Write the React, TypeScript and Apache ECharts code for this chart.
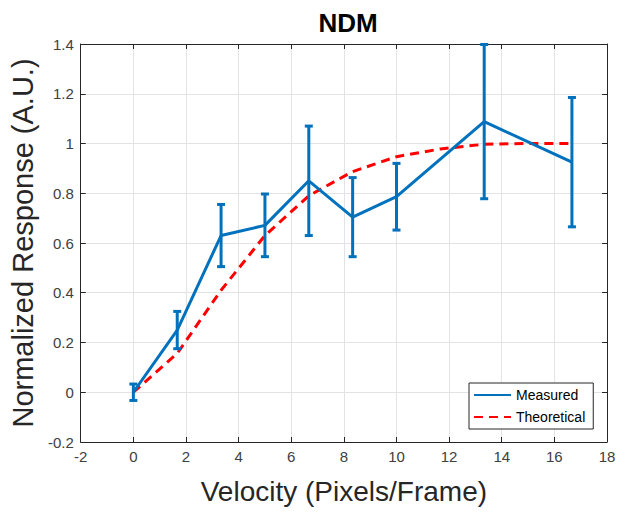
import React, { useEffect, useRef } from "react";
import * as echarts from "echarts";

const velocities = [0, 1.667, 3.333, 5, 6.667, 8.333, 10, 13.333, 16.667];
const measured = [0.0, 0.25, 0.63, 0.671, 0.85, 0.704, 0.786, 1.088, 0.925];
const measuredErr = [0.033, 0.075, 0.125, 0.126, 0.22, 0.159, 0.134, 0.31, 0.26];
const theoVelocities = [0, 1.667, 3.333, 5, 6.667, 8.333, 10, 11.667, 13.333, 15, 16.667];
const theoretical = [0.0, 0.156, 0.41, 0.63, 0.79, 0.887, 0.947, 0.978, 0.997, 1.0, 1.0];

const FONT = "'Liberation Sans', Arial, Helvetica, sans-serif";
const BLUE = "#0072BD";
const RED = "#FF0000";
const AX = "#262626";

export default function App() {
  const ref = useRef<HTMLDivElement>(null);
  useEffect(() => {
    const chart = echarts.init(ref.current!, null, { renderer: "svg" });
    const errData = velocities.map((v, i) => [v, measured[i] - measuredErr[i], measured[i] + measuredErr[i]]);
    const axisCommon = {
      type: "value" as const,
      axisLine: { show: true, onZero: false, lineStyle: { color: AX, width: 1 } },
      axisTick: { show: true, inside: true, length: 5, lineStyle: { color: AX } },
    };
    chart.setOption({
      animation: false,
      backgroundColor: "#ffffff",
      title: {
        text: "NDM",
        left: 343,
        textAlign: "center",
        top: 5,
        textStyle: { fontFamily: FONT, fontSize: 26, fontWeight: "bold", color: "#000" },
      },
      legend: {
        orient: "vertical",
        left: 469,
        top: 383,
        data: ["Measured", "Theoretical"],
        backgroundColor: "#ffffff",
        borderColor: AX,
        borderWidth: 1,
        borderRadius: 0,
        padding: [5, 8, 5, 4],
        itemGap: 8,
        itemWidth: 37,
        itemHeight: 12,
        itemStyle: { opacity: 0 },
        textStyle: { fontFamily: FONT, fontSize: 14, color: "#000" },
      },
      grid: { left: 80, right: 14, top: 44, bottom: 70, containLabel: false },
      xAxis: [
        {
          ...axisCommon,
          position: "bottom",
          min: -2,
          max: 18,
          interval: 2,
          name: "Velocity (Pixels/Frame)",
          nameLocation: "middle",
          nameGap: 35,
          nameTextStyle: { fontFamily: FONT, fontSize: 28, color: "#262626" },
          axisLabel: { fontFamily: FONT, fontSize: 15, color: "#404040", margin: 7 },
          splitLine: { show: true, lineStyle: { color: "#e3e3e3", width: 1 } },
        },
        {
          ...axisCommon,
          position: "top",
          min: -2,
          max: 18,
          interval: 2,
          axisLabel: { show: false },
          splitLine: { show: false },
        },
      ],
      yAxis: [
        {
          ...axisCommon,
          position: "left",
          min: -0.2,
          max: 1.4,
          interval: 0.2,
          name: "Normalized Response (A.U.)",
          nameLocation: "middle",
          nameGap: 43,
          nameTextStyle: { fontFamily: FONT, fontSize: 29, color: "#262626" },
          axisLabel: { fontFamily: FONT, fontSize: 15, color: "#404040", margin: 7 },
          splitLine: { show: true, lineStyle: { color: "#e3e3e3", width: 1 } },
        },
        {
          ...axisCommon,
          position: "right",
          min: -0.2,
          max: 1.4,
          interval: 0.2,
          axisLabel: { show: false },
          splitLine: { show: false },
        },
      ],
      series: [
        {
          name: "Theoretical",
          type: "line",
          data: theoVelocities.map((v, i) => [v, theoretical[i]]),
          symbol: "none",
          lineStyle: { color: RED, width: 3, type: [9, 6] },
          itemStyle: { color: RED },
          z: 2,
        },
        {
          name: "Measured",
          type: "line",
          data: velocities.map((v, i) => [v, measured[i]]),
          symbol: "none",
          lineStyle: { color: BLUE, width: 3 },
          itemStyle: { color: BLUE },
          z: 3,
        },
        {
          name: "err",
          type: "custom",
          data: errData,
          clip: false,
          z: 3,
          renderItem: (params: any, api: any) => {
            const x = api.value(0);
            const lo = api.coord([x, api.value(1)]);
            const hi = api.coord([x, api.value(2)]);
            const cap = 4;
            const style = { stroke: BLUE, lineWidth: 3 };
            return {
              type: "group",
              children: [
                { type: "line", shape: { x1: lo[0], y1: lo[1], x2: hi[0], y2: hi[1] }, style },
                { type: "line", shape: { x1: lo[0] - cap, y1: lo[1], x2: lo[0] + cap, y2: lo[1] }, style },
                { type: "line", shape: { x1: hi[0] - cap, y1: hi[1], x2: hi[0] + cap, y2: hi[1] }, style },
              ],
            };
          },
        },
      ],
    });
    return () => chart.dispose();
  }, []);
  return <div ref={ref} style={{ position: "absolute", left: 0, top: 0, width: 621, height: 512 }} />;
}
